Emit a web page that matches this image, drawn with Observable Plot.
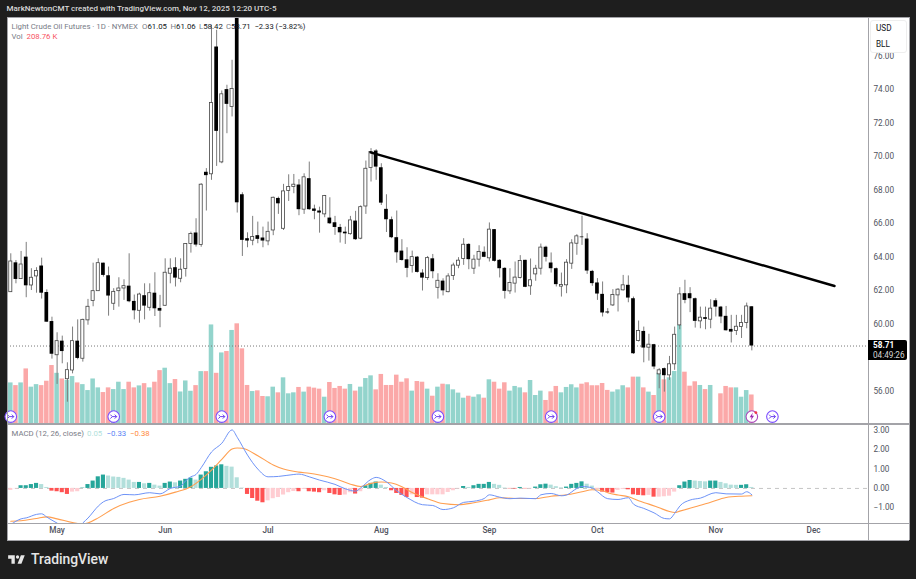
<!DOCTYPE html>
<html><head><meta charset="utf-8">
<script src="https://cdn.jsdelivr.net/npm/d3@7"></script>
<script src="https://cdn.jsdelivr.net/npm/@observablehq/plot@0.6"></script>
<style>
html,body{margin:0;padding:0;background:#1e1e1e;}
#stage{position:relative;width:916px;height:579px;overflow:hidden;background:#1e1e1e;font-family:Roboto,sans-serif;}
#panel{position:absolute;left:7px;top:17px;width:902px;height:523px;background:#fff;}
#stage>svg{position:absolute;left:0;top:0;}
.t{position:absolute;white-space:nowrap;line-height:1;}
.sep{position:absolute;background:#a3a3a8;}
</style></head><body>
<div id="stage">
<div id="panel"></div>
</div>
<script>
const months=["May","Jun","Jul","Aug","Sep","Oct","Nov","Dec"];
const monthBars=[9,30,50,72,93,114,137,156];
const opens=[61.92,63.67,62.70,64.01,62.32,62.86,63.48,61.90,60.17,58.16,59.00,56.73,57.25,59.00,57.95,60.24,61.39,61.98,63.65,62.90,61.23,61.98,62.14,62.28,61.37,60.81,61.71,60.99,61.86,60.95,61.11,63.02,63.38,62.72,63.30,64.79,65.45,64.73,69.07,68.95,76.54,69.66,74.00,72.96,79.30,67.73,65.11,64.99,65.29,65.15,64.95,65.60,67.51,65.70,67.95,68.19,68.31,66.84,68.69,66.88,66.76,66.56,66.34,66.06,65.78,65.50,65.38,66.16,65.11,67.03,69.32,70.34,69.34,66.86,66.24,65.17,64.37,63.85,63.48,64.01,63.06,62.76,63.91,62.18,62.58,61.92,62.88,63.50,63.90,64.77,63.32,63.86,64.30,63.94,65.65,63.82,63.34,61.97,62.43,62.77,63.82,62.27,62.98,63.32,64.60,63.66,63.32,62.25,62.33,63.62,64.81,65.21,65.09,63.16,62.47,61.79,60.74,61.13,61.73,62.03,62.33,61.53,59.01,59.58,58.61,58.79,57.02,57.36,56.96,57.62,59.94,61.83,61.83,61.53,60.18,60.40,60.28,61.41,61.03,60.48,59.70,59.60,59.84,60.08,61.05];
const highs=[64.21,63.81,64.35,64.89,63.32,63.38,63.95,62.06,60.43,59.50,59.30,57.71,59.84,60.27,60.31,61.49,63.65,63.91,63.65,63.42,62.13,62.78,62.66,64.21,61.75,61.86,62.42,62.42,63.08,61.73,63.91,63.91,63.97,63.91,64.81,65.50,66.30,68.39,69.29,77.84,77.54,73.92,74.26,75.75,79.50,67.85,65.46,66.44,66.10,65.80,66.10,67.59,67.59,68.35,68.92,68.94,68.63,68.98,69.68,67.11,66.99,67.69,67.55,66.44,65.96,65.80,66.44,66.74,67.07,69.74,70.48,70.42,69.58,67.73,66.40,66.76,65.05,64.57,64.37,64.05,63.26,64.05,64.17,63.02,62.72,63.02,63.65,63.98,65.11,64.81,64.12,64.69,64.62,66.05,65.65,63.86,63.38,63.32,63.72,64.10,63.82,63.90,63.52,64.79,64.66,64.26,63.36,63.06,63.86,65.05,65.35,66.45,65.41,63.22,62.73,62.53,60.94,62.07,62.13,62.92,62.89,61.63,60.20,59.84,59.41,58.81,57.36,57.40,58.09,59.84,62.19,62.63,62.19,61.57,61.03,61.03,61.47,61.53,61.07,61.07,60.54,60.54,60.54,61.27,61.06];
const lows=[61.92,62.42,62.70,61.59,62.02,61.86,61.51,60.13,57.93,56.42,57.65,55.36,57.05,57.89,57.75,59.95,61.05,61.96,62.82,60.49,60.83,61.03,61.43,61.29,60.27,60.07,60.27,60.79,60.47,59.80,61.07,62.42,62.23,62.48,62.82,64.25,64.61,64.60,66.76,68.59,69.42,69.58,71.37,72.37,66.64,64.05,64.57,64.69,64.81,64.57,64.69,65.29,66.56,65.60,67.33,67.79,66.48,66.56,66.80,66.24,65.44,66.36,65.96,65.31,64.85,64.77,65.32,65.01,65.05,66.56,68.49,68.59,67.09,65.48,65.11,63.65,63.77,62.78,63.06,63.06,61.99,62.62,62.72,61.51,61.70,61.88,62.62,63.32,63.52,63.26,62.98,63.42,63.98,63.72,63.72,62.77,61.51,61.79,61.87,62.71,62.19,61.73,62.57,62.94,63.72,63.06,62.23,61.63,61.83,63.28,64.12,64.71,62.98,62.27,61.43,60.44,60.60,61.07,60.74,61.99,61.29,58.21,58.95,57.71,57.81,57.30,56.16,55.96,56.66,57.26,59.68,61.23,60.70,59.78,59.74,59.68,59.74,60.44,60.04,59.60,58.89,59.34,59.16,59.74,58.42];
const closes=[63.75,62.68,63.57,62.30,62.78,63.18,61.86,60.13,58.22,59.00,58.38,57.27,59.00,57.97,60.27,61.05,61.98,63.65,62.92,61.69,61.94,62.14,62.28,61.35,60.81,61.78,61.09,61.86,60.93,60.79,63.08,63.32,62.76,63.26,64.79,65.39,64.73,68.33,68.87,73.20,71.51,73.72,73.12,74.04,67.25,65.01,64.97,65.21,65.07,64.97,65.52,67.55,67.19,67.93,68.19,68.33,66.84,68.77,66.84,66.74,66.64,67.65,66.00,65.78,65.46,65.40,66.20,65.05,66.99,69.28,70.28,69.38,67.23,66.24,65.17,64.27,63.81,63.34,64.01,63.10,62.76,63.95,63.14,62.60,62.00,62.86,63.51,63.80,64.75,63.86,63.86,64.32,64.00,65.65,63.76,63.32,61.97,62.47,62.79,63.78,62.21,62.63,63.32,64.58,64.00,63.32,62.37,62.35,63.68,64.83,65.25,65.17,63.18,62.43,61.81,60.68,60.68,61.75,62.07,62.33,61.57,58.25,59.60,58.59,58.79,57.46,57.26,56.94,57.62,59.38,61.79,61.43,61.53,60.18,60.40,60.30,60.94,61.03,60.44,59.62,59.54,59.86,60.08,61.07,58.71];
const volumes=[294,275,294,393,264,282,275,306,417,362,322,311,339,294,282,240,322,259,226,259,247,299,247,299,259,273,289,259,299,381,398,289,318,230,308,235,275,374,374,704,362,506,516,665,712,535,276,233,238,198,196,264,224,330,217,224,262,229,264,257,250,193,297,255,269,250,283,236,264,325,344,245,354,276,276,349,299,323,236,304,299,250,200,264,285,281,245,222,186,200,193,210,186,316,299,250,295,236,269,259,224,311,205,236,170,231,269,224,262,281,259,285,295,274,274,290,241,229,245,274,259,335,335,259,229,205,363,316,330,375,700,370,271,302,276,247,276,null,217,269,259,259,193,240,208.76];
const histogram=[-.10,-.02,.14,.14,.20,.26,.20,.05,-.14,-.17,-.22,-.31,-.19,-.17,.02,.20,.38,.60,.69,.64,.59,.57,.52,.43,.31,.31,.24,.26,.17,.12,.26,.33,.29,.38,.47,.53,.43,.69,.86,1.09,1.16,1.22,1.14,1.10,.55,.02,-.31,-.52,-.66,-.74,-.64,-.53,-.47,-.34,-.22,-.16,-.17,-.05,-.17,-.19,-.22,-.12,-.26,-.33,-.36,-.34,-.22,-.29,-.17,.14,.26,.33,.17,.05,-.12,-.26,-.36,-.47,-.33,-.47,-.50,-.33,-.33,-.33,-.33,-.21,-.12,-.02,.10,.05,.14,.21,.21,.31,.21,.16,.02,-.02,-.03,.05,-.02,-.02,.07,.19,.22,.17,.09,.03,.07,.21,.26,.34,.22,.12,-.02,-.19,-.22,-.24,-.10,-.05,-.07,-.33,-.36,-.38,-.36,-.45,-.45,-.43,-.40,-.19,.14,.33,.41,.38,.36,.34,.38,.38,.31,.24,.17,.16,.16,.19,.05];
const macdBars=[0,2,3,5,6,7,9,11,13,14,15,17,18,20,22,24,27,29,31,33,34,35,36,37,39,41,43,44,46,48,50,52,55,56,58,60,63,65,67,68,70,71,73,75,77,80,82,84,86,88,90,92,93,95,97,99,102,103,105,107,108,110,111,113,114,116,118,120,121,123,125,127,128,129,130,132,134,137,139,142,143,144];
const macdValues=[-1.86,-1.57,-1.52,-1.34,-1.31,-1.48,-1.79,-2.07,-2.02,-1.78,-1.53,-.91,-.69,-.52,-.31,-.33,-.22,-.28,0,.12,.40,.60,.72,1.07,1.88,2.33,3.02,2.64,1.72,1.0,.60,.62,.72,.74,.60,.43,.21,-.02,-.14,.03,.47,.57,.34,-.12,-.47,-.84,-.88,-1.09,-1.0,-.72,-.66,-.52,-.33,-.45,-.53,-.50,-.53,-.33,-.26,-.38,-.34,0,.10,.02,-.17,-.53,-.57,-.48,-.81,-1.03,-1.26,-1.55,-1.57,-1.29,-.91,-.60,-.50,-.22,-.28,-.29,-.17,-.33];
const signalBars=[0,2,5,7,9,12,14,15,17,20,23,25,29,32,35,37,39,41,43,44,45,48,51,53,56,58,60,63,66,68,70,72,74,76,78,81,84,87,90,93,95,98,102,105,108,111,113,115,116,118,120,122,124,126,128,129,130,133,136,139,142,144];
const signalValues=[-1.69,-1.67,-1.55,-1.47,-1.57,-1.76,-1.84,-1.78,-1.52,-1.03,-.71,-.57,-.40,-.19,.09,.47,.95,1.5,2.03,2.09,2.07,1.69,1.21,1.0,.84,.78,.69,.5,.22,.10,.26,.33,.28,.09,-.21,-.53,-.78,-.84,-.74,-.59,-.48,-.52,-.52,-.40,-.33,-.17,-.07,-.12,-.22,-.34,-.43,-.64,-.81,-1.0,-1.19,-1.24,-1.17,-.95,-.71,-.47,-.40,-.38];
const trendBars=[69.9,160.07];
const trendPrices=[70.26,62.29];
const eventBars=[0,20,41,62,83,105,126,148];
const lightningBars=[144];
const eventPrice=54.5;
const lastClose=58.71;
const priceTicks=[56,60,62,64,66,68,70,72,74,76];
const macdTicks=[-1,0,1,2,3];

const FONT="Roboto, sans-serif";
const bars=d3.range(opens.length);
const xScale={type:"linear",domain:[-0.64,166.67],range:[7,868],axis:null};
const base={width:916,marginLeft:7,marginRight:48,x:xScale,style:{background:"transparent",fontFamily:FONT,fontSize:"8.2px"}};
const axisColor="#50535e";

const arrowSymbol={draw(c){
  c.moveTo(-3.4,-2);c.lineTo(-1.4,0);c.lineTo(-3.4,2);
  c.moveTo(-1.4,0);c.lineTo(3,0);
  c.moveTo(1,-2);c.lineTo(3,0);c.lineTo(1,2);
}};
const boltSymbol={draw(c){
  c.moveTo(1,-4);c.lineTo(-2.2,.6);c.lineTo(-.2,.6);c.lineTo(-1,4);c.lineTo(2.2,-.8);c.lineTo(.2,-.8);c.closePath();
}};

const volPlot=Plot.plot({...base,height:424,marginTop:17,marginBottom:0,
  y:{domain:[0,2878],range:[424,17],axis:null},
  marks:[
    Plot.rect(bars.filter(i=>volumes[i]!=null),{x1:i=>i-.44,x2:i=>i+.44,y1:0,y2:i=>volumes[i],
      fill:i=>closes[i]>=opens[i]?"#93d4cc":"#fba8a8",clip:true})
  ]});

const up=bars.filter(i=>closes[i]>=opens[i]);
const down=bars.filter(i=>closes[i]<opens[i]);
const pricePlot=Plot.plot({...base,height:424,marginTop:17,marginBottom:0,
  y:{domain:[54.03,78.3],range:[424,17],axis:null},
  marks:[
    Plot.axisY(priceTicks,{anchor:"right",tickSize:0,tickPadding:5,tickFormat:d=>d.toFixed(2),label:null,fill:axisColor}),
    Plot.ruleY([lastClose],{stroke:"#777",strokeWidth:1,strokeDasharray:"1,2"}),
    Plot.ruleX(bars,{x:i=>i,y1:i=>lows[i],y2:i=>highs[i],stroke:"#7d7d7d",strokeWidth:1,clip:true}),
    Plot.rect(up,{x1:i=>i-.3,x2:i=>i+.3,y1:i=>opens[i],y2:i=>closes[i],fill:"#fff",stroke:"#444",strokeWidth:.8,clip:true}),
    Plot.rect(down,{x1:i=>i-.36,x2:i=>i+.36,y1:i=>opens[i],y2:i=>closes[i],fill:"#000",clip:true}),
    Plot.line(trendBars.map((b,k)=>[b,trendPrices[k]]),{x:d=>d[0],y:d=>d[1],stroke:"#000",strokeWidth:2.4}),
    Plot.dot(eventBars,{x:i=>i,y:()=>eventPrice,r:5.8,fill:"#fff",stroke:"#7c4dff",strokeWidth:1.1}),
    Plot.dot(eventBars,{x:i=>i,y:()=>eventPrice,symbol:arrowSymbol,fill:"none",stroke:"#6a3df0",strokeWidth:1}),
    Plot.dot(lightningBars,{x:i=>i,y:()=>eventPrice,r:5.8,fill:"#fff",stroke:"#ab47bc",strokeWidth:1.1}),
    Plot.dot(lightningBars,{x:i=>i,y:()=>eventPrice,symbol:boltSymbol,fill:"#9c27b0",stroke:"none"}),
    Plot.dot(lightningBars,{x:i=>i,y:()=>eventPrice,r:1.4,dx:4,dy:-4,fill:"#f23645"})
  ]});

const histColor=i=>{
  const v=histogram[i],p=i>0?histogram[i-1]:v;
  if(v>=0) return v>=p?"#26a69a":"#b2dfdb";
  return v<p?"#ff5252":"#ffcdd2";
};
const macdPlot=Plot.plot({...base,height:540,marginTop:424,marginBottom:17,
  y:{domain:[-1.81,3.30],range:[523,424],axis:null},
  marks:[
    Plot.axisY(macdTicks,{anchor:"right",tickSize:0,tickPadding:5,tickFormat:d=>d.toFixed(2).replace("-","−"),label:null,fill:axisColor}),
    Plot.axisX(monthBars,{anchor:"bottom",tickSize:0,tickPadding:3.5,tickFormat:d=>months[monthBars.indexOf(d)],label:null,fill:axisColor,fontWeight:500}),
    Plot.ruleY([0],{stroke:"#c4c4c4",strokeWidth:1,strokeDasharray:"4,4"}),
    Plot.rect(bars,{x1:i=>i-.4,x2:i=>i+.4,y1:0,y2:i=>histogram[i],fill:histColor,clip:true}),
    Plot.line(signalBars.map((b,k)=>[b,signalValues[k]]),{x:d=>d[0],y:d=>d[1],stroke:"#ff9f50",strokeWidth:1.1,curve:"monotone-x",clip:true}),
    Plot.line(macdBars.map((b,k)=>[b,macdValues[k]]),{x:d=>d[0],y:d=>d[1],stroke:"#6e93f7",strokeWidth:1,curve:"monotone-x",clip:true})
  ]});

const stage=document.getElementById("stage");
for(const p of [volPlot,pricePlot,macdPlot]) stage.appendChild(p);

function sep(l,t,w,h){const d=document.createElement("div");d.className="sep";d.style.cssText=`left:${l}px;top:${t}px;width:${w}px;height:${h}px;`;stage.appendChild(d);}
sep(7,423,902,1.5);sep(7,522.5,902,1.3);sep(867.6,17,1.4,523);sep(7,539.5,902,1);sep(908.5,17,1,523);sep(7,17,902,.8);sep(7,17,.8,523);

function text(html,css){const d=document.createElement("div");d.className="t";d.innerHTML=html;d.style.cssText=css;stage.appendChild(d);}
const g="#787b86",k="#131722";
text("MarkNewtonCMT created with TradingView.com, Nov 12, 2025 12:20 UTC-5","left:6.5px;top:4.8px;font-size:8px;color:#d9d9d9;font-weight:500;");
text(`<span style="color:${g}">Light Crude Oil Futures · 1D · NYMEX</span>`,"left:11.5px;top:22.8px;font-size:7.8px;");
const ohlc=[["O","61.05",142],["H","61.06",170.5],["L","58.42",199],["C","58.71",226]];
ohlc.forEach(([a,v,x])=>text(`<span style="color:${g}">${a}</span>${v}`,`left:${x}px;top:22.8px;font-size:7.8px;color:${k};`));
text("−2.33 (−3.82%)",`left:254.5px;top:22.8px;font-size:7.6px;color:${k};`);
text(`<span style="color:${g}">Vol</span>`,"left:11.5px;top:33.4px;font-size:7.8px;");
text(`<span style="color:#f7525f">208.76 K</span>`,"left:26.5px;top:33.4px;font-size:7.8px;");
text(`<span style="color:${g}">MACD (12, 26, close)</span>`,"left:11.5px;top:430px;font-size:7.8px;");
text(`<span style="color:#b2dfdb">0.05</span>`,"left:87px;top:430px;font-size:7.8px;");
text(`<span style="color:#5b83f5">−0.33</span>`,"left:106.5px;top:430px;font-size:7.8px;");
text(`<span style="color:#ff8a3c">−0.38</span>`,"left:130px;top:430px;font-size:7.8px;");
// unit box
const box=document.createElement("div");box.style.cssText="position:absolute;left:870px;top:19.5px;width:37px;height:33.5px;background:#fff;border-radius:3px;border:.5px solid #eee;box-sizing:border-box;";stage.appendChild(box);
text("USD",`left:876px;top:23.5px;font-size:8.2px;color:${k};`);
text("BLL",`left:876px;top:40px;font-size:8.2px;color:${k};`);
// price tag
const tag=document.createElement("div");tag.style.cssText="position:absolute;left:868px;top:340px;width:39px;height:19.5px;background:#000;border-radius:0 2px 2px 0;";stage.appendChild(tag);
text("58.71","left:873px;top:341px;font-size:8.2px;color:#fff;font-weight:700;");
text("04:49:26","left:873px;top:350.6px;font-size:8.2px;color:#d6d6d6;");
// logo
const logo=document.createElementNS("http://www.w3.org/2000/svg","svg");
logo.setAttribute("viewBox","0 0 36 28");logo.setAttribute("width","20");logo.setAttribute("height","15.5");logo.style.cssText="left:7px;top:552px;";
logo.innerHTML='<path fill="#e6e6e6" d="M14 6H2v6h6v9h6V6Zm12 15h-7l6-15h7l-6 15Zm-7-9a3 3 0 1 0 0-6 3 3 0 0 0 0 6Z"/>';
stage.appendChild(logo);
text("TradingView","left:31px;top:552.8px;font-size:13.9px;color:#e6e6e6;font-weight:500;");
</script>
</body></html>
